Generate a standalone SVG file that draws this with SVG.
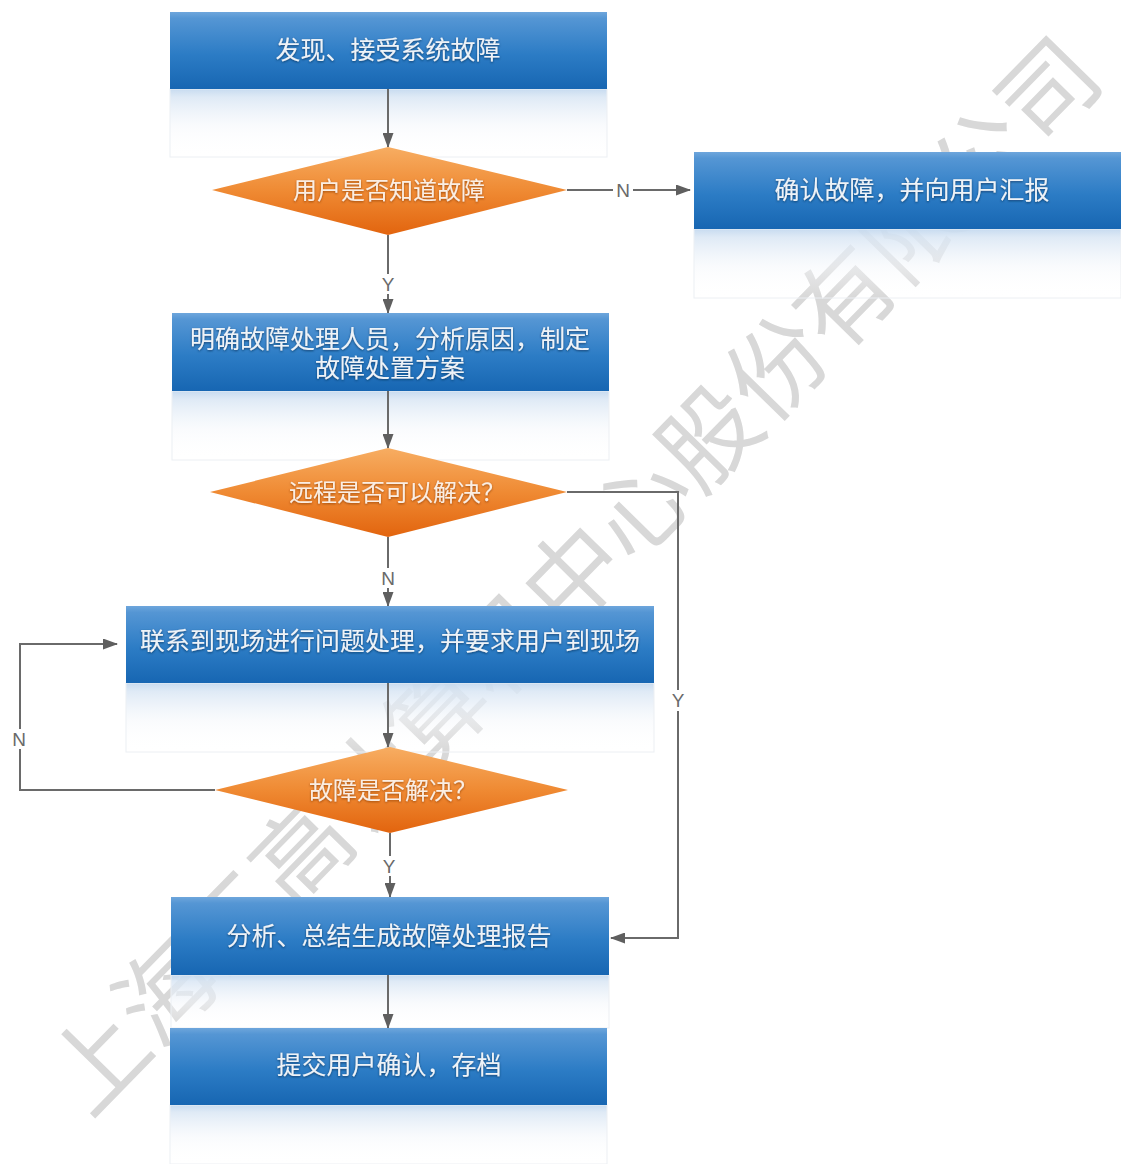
<svg xmlns="http://www.w3.org/2000/svg" width="1121" height="1164" viewBox="0 0 1121 1164">
<defs>
  <linearGradient id="gBox" x1="0" y1="0" x2="0" y2="1">
    <stop offset="0" stop-color="#6ea6dc"/>
    <stop offset="0.08" stop-color="#5596d4"/>
    <stop offset="0.55" stop-color="#2c7cc5"/>
    <stop offset="1" stop-color="#1766b2"/>
  </linearGradient>
  <linearGradient id="gRef" x1="0" y1="0" x2="0" y2="1">
    <stop offset="0" stop-color="#c4d9ef" stop-opacity="0.95"/>
    <stop offset="0.12" stop-color="#d9e6f4" stop-opacity="0.85"/>
    <stop offset="0.55" stop-color="#f4f7fb" stop-opacity="0.5"/>
    <stop offset="1" stop-color="#ffffff" stop-opacity="0"/>
  </linearGradient>
  <linearGradient id="gDia" x1="0" y1="0" x2="0" y2="1">
    <stop offset="0" stop-color="#f7ad62"/>
    <stop offset="0.5" stop-color="#ef8a33"/>
    <stop offset="1" stop-color="#e2640e"/>
  </linearGradient>
  <filter id="sh" x="-10%" y="-30%" width="120%" height="160%">
    <feDropShadow dx="0" dy="1" stdDeviation="1" flood-color="#0b355f" flood-opacity="0.85"/>
  </filter>
  <filter id="shO" x="-10%" y="-30%" width="120%" height="160%">
    <feDropShadow dx="0" dy="1" stdDeviation="1" flood-color="#8a3a05" flood-opacity="0.8"/>
  </filter>
  <marker id="ah" markerUnits="userSpaceOnUse" markerWidth="15" markerHeight="11" refX="14" refY="5.5" orient="auto">
    <path d="M0,0 L15,5.5 L0,11 z" fill="#5f5f5f"/>
  </marker>
</defs>
<style>
  .box{fill:url(#gBox);}
  .ref{fill:url(#gRef);stroke:#eceff3;stroke-width:1;}
  .dia{fill:url(#gDia);}
  .t{font-family:"Noto Sans CJK SC","Noto Sans",sans-serif;font-size:25px;fill:#eef3f8;text-anchor:middle;filter:url(#sh);}
  .td{font-family:"Noto Sans CJK SC","Noto Sans",sans-serif;font-size:24px;fill:#fbeee2;text-anchor:middle;filter:url(#shO);}
  .ln{fill:none;stroke:#6a6a6a;stroke-width:2;}
  .lb{font-family:"Liberation Sans",Arial,sans-serif;font-size:19px;fill:#6a6a6a;text-anchor:middle;}
  .wm{font-family:"Noto Sans CJK SC",sans-serif;font-size:97px;fill:#d8d8d8;text-anchor:middle;}
</style>
<rect width="1121" height="1164" fill="#ffffff"/>

<g id="watermark">
  <text class="wm" transform="translate(575,577) rotate(-45.6)" y="33">上海三高计算机中心股份有限公司</text>
</g>

<g id="reflections">
  <rect class="ref" x="170" y="89" width="437" height="68"/>
  <rect class="ref" x="694" y="229" width="427" height="69"/>
  <rect class="ref" x="172" y="391" width="437" height="69"/>
  <rect class="ref" x="126" y="683" width="528" height="69"/>
  <rect class="ref" x="171" y="975" width="438" height="53"/>
  <rect class="ref" x="170" y="1105" width="437" height="59"/>
</g>

<g id="connectors">
  <path class="ln" d="M388,89 V147" marker-end="url(#ah)"/>
  <path class="ln" d="M567,190 H613"/>
  <path class="ln" d="M633,190 H690" marker-end="url(#ah)"/>
  <text class="lb" x="623" y="197">N</text>
  <path class="ln" d="M388,235 V274"/>
  <path class="ln" d="M388,294 V313" marker-end="url(#ah)"/>
  <text class="lb" x="388" y="291">Y</text>
  <path class="ln" d="M388,391 V448" marker-end="url(#ah)"/>
  <path class="ln" d="M567,492 H678 V690"/>
  <path class="ln" d="M678,711 V938 H611" marker-end="url(#ah)"/>
  <text class="lb" x="678" y="707">Y</text>
  <path class="ln" d="M388,537 V568"/>
  <path class="ln" d="M388,588 V606" marker-end="url(#ah)"/>
  <text class="lb" x="388" y="585">N</text>
  <path class="ln" d="M388,683 V747" marker-end="url(#ah)"/>
  <path class="ln" d="M215,790 H20 V749"/>
  <path class="ln" d="M20,729 V644 H117" marker-end="url(#ah)"/>
  <text class="lb" x="19" y="746">N</text>
  <path class="ln" d="M390,833 V856"/>
  <path class="ln" d="M390,876 V897" marker-end="url(#ah)"/>
  <text class="lb" x="389" y="873">Y</text>
  <path class="ln" d="M388,975 V1028" marker-end="url(#ah)"/>
</g>

<g id="n1">
  <rect class="box" x="170" y="12" width="437" height="77"/>
  <text class="t" x="388" y="59">发现、接受系统故障</text>
</g>
<g id="d1">
  <polygon class="dia" points="388,147 567,190 388,235 212,190"/>
  <text class="td" x="389" y="199">用户是否知道故障</text>
</g>
<g id="n2">
  <rect class="box" x="694" y="152" width="427" height="77"/>
  <text class="t" x="912" y="199">确认故障，并向用户汇报</text>
</g>
<g id="n3">
  <rect class="box" x="172" y="313" width="437" height="78"/>
  <text class="t" x="390" y="348">明确故障处理人员，分析原因，制定</text>
  <text class="t" x="390" y="377">故障处置方案</text>
</g>
<g id="d2">
  <polygon class="dia" points="388,448 567,492 388,537 210,492"/>
  <text class="td" x="397" y="501">远程是否可以解决？</text>
</g>
<g id="n4">
  <rect class="box" x="126" y="606" width="528" height="77"/>
  <text class="t" x="390" y="650">联系到现场进行问题处理，并要求用户到现场</text>
</g>
<g id="d3">
  <polygon class="dia" points="390,747 568,790 390,833 215,790"/>
  <text class="td" x="393" y="799">故障是否解决？</text>
</g>
<g id="n5">
  <rect class="box" x="171" y="897" width="438" height="78"/>
  <text class="t" x="389" y="945">分析、总结生成故障处理报告</text>
</g>
<g id="n6">
  <rect class="box" x="170" y="1028" width="437" height="77"/>
  <text class="t" x="389" y="1074">提交用户确认，存档</text>
</g>
</svg>
